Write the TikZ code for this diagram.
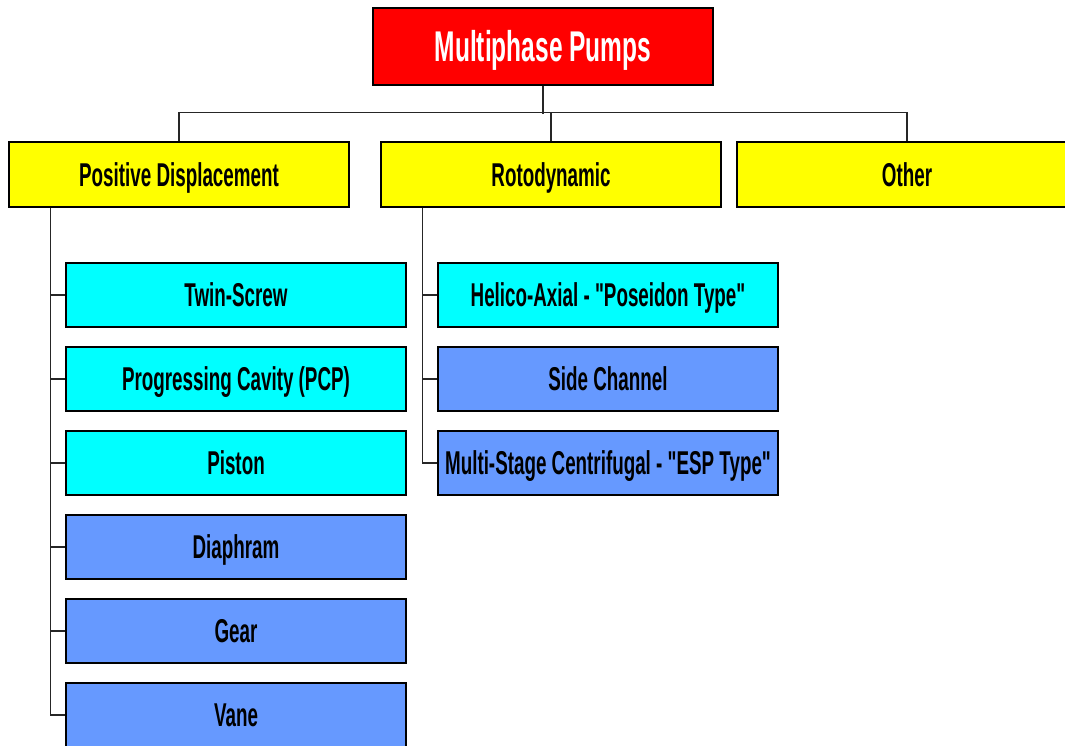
\documentclass[tikz,border=0pt]{standalone}
\usepackage{fontspec}
\setmainfont{Liberation Sans}[FakeStretch=0.57, Ligatures=TeXOff]
\usetikzlibrary{calc}
\definecolor{topred}{HTML}{FF0000}
\definecolor{catyellow}{HTML}{FFFF00}
\definecolor{aqua}{HTML}{00FFFF}
\definecolor{pumpblue}{HTML}{6699FF}
\tikzset{
  box/.style={draw=black, line width=1.6pt, minimum width=340pt, inner sep=0pt, text height=23.5pt, text depth=0pt, font=\bfseries\fontsize{33}{35}\selectfont},
  topbox/.style={box, fill=topred, minimum height=77pt, text=white, text height=31pt, font=\bfseries\fontsize{43}{46}\selectfont},
  catbox/.style={box, fill=catyellow, minimum height=65pt},
  cyanbox/.style={box, fill=aqua, minimum height=64pt},
  bluebox/.style={box, fill=pumpblue, minimum height=64pt},
  conn/.style={draw=black!85, line width=1.3pt}
}
\begin{document}
\begin{tikzpicture}[x=1pt,y=-1pt]
\useasboundingbox (0,0) rectangle (1065,746);
\clip (0,0) rectangle (1065,746);
\node[topbox] (top) at (543,46.5) {Multiphase Pumps};
\node[catbox] (pd) at (179,174.5) {Positive Displacement};
\node[catbox] (roto) at (551,174.5) {Rotodynamic};
\node[catbox] (other) at (907,174.5) {Other};
\node[cyanbox] (twin) at (236,295) {Twin-Screw};
\node[cyanbox] (pcp) at (236,379) {Progressing Cavity (PCP)};
\node[cyanbox] (piston) at (236,463) {Piston};
\node[bluebox] (diaph) at (236,547) {Diaphram};
\node[bluebox] (gear) at (236,631) {Gear};
\node[bluebox] (vane) at (236,715) {Vane};
\node[cyanbox] (helico) at (608,295) {Helico-Axial - "Poseidon Type"};
\node[bluebox] (side) at (608,379) {Side Channel};
\node[bluebox] (multi) at (608,463) {Multi-Stage Centrifugal - "ESP Type"};
\draw[conn] (top.south) -- ++(0,28);
\draw[conn] (pd.north) -- ++(0,-29) -| (other.north);
\draw[conn] (roto.north) -- ++(0,-29);
\draw[conn] ($(pd.south west)+(42,0)$) |- (vane.west);
\foreach \n in {twin,pcp,piston,diaph,gear} \draw[conn] (\n.west) -- ++(-15,0);
\draw[conn] ($(roto.south west)+(42,0)$) |- (multi.west);
\foreach \n in {helico,side} \draw[conn] (\n.west) -- ++(-15,0);
\end{tikzpicture}
\end{document}
